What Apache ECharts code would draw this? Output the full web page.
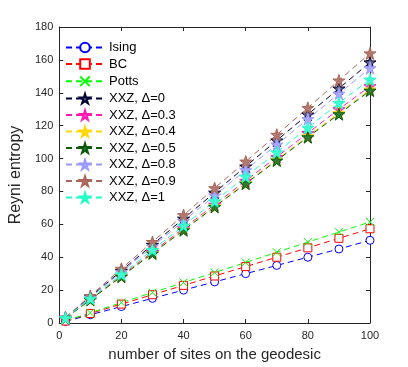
<!DOCTYPE html>
<html>
<head>
<meta charset="utf-8">
<script src="https://cdn.jsdelivr.net/npm/echarts@6.0.0/dist/echarts.min.js"></script>
<style>
  html, body { margin: 0; padding: 0; background: #fff; }
  #chart { width: 408px; height: 367px; }
</style>
</head>
<body>
<div id="chart"></div>
<script>
// number of sites on the geodesic
const sites = [2, 10, 20, 30, 40, 50, 60, 70, 80, 90, 100]

const ising = [1, 5, 10, 15, 20, 25, 30, 35, 40, 45, 50.3]
const bc = [1.2, 5.8, 11.5, 17.2, 22.9, 28.6, 34.3, 40, 45.7, 51.5, 57.3]
const potts = [1.3, 6.2, 12.4, 18.5, 24.6, 30.7, 36.8, 43, 49.2, 55.3, 61.4]
const xxz0 = [3.2, 15.9, 31.8, 47.6, 63.5, 79.3, 95.2, 111, 126.8, 142.6, 158.5]
const xxz03 = [2.9, 14.4, 28.8, 43.2, 57.6, 72, 86.5, 101, 115.5, 130, 144]
const xxz04 = [2.85, 14.2, 28.4, 42.6, 56.8, 71, 85.2, 99.4, 113.6, 127.8, 142]
const xxz05 = [2.8, 14.1, 28.2, 42.3, 56.4, 70.6, 84.7, 98.8, 113, 127, 141.3]
const xxz08 = [3.1, 15.5, 31, 46.5, 62, 77.5, 93, 108.5, 124, 139.5, 155]
const xxz09 = [3.3, 16.5, 33, 49.3, 65.6, 82, 98.2, 114.5, 130.8, 147.5, 164]
const xxz1 = [3, 14.8, 29.6, 44.4, 59.2, 74, 89, 103.8, 118.7, 133.8, 148]

const xTicks = [0, 20, 40, 60, 80, 100]
const yTicks = [0, 20, 40, 60, 80, 100, 120, 140, 160, 180]

const STAR = 'path://M50,0L61.2,34.5L97.6,34.5L68.2,55.9L79.4,90.5L50,69.1L20.6,90.5L31.8,55.9L2.4,34.5L38.8,34.5Z'
const CROSS = 'path://M0,0L10,10M10,0L0,10'
const FONT = '"Liberation Sans", Arial, sans-serif'
const AXIS_COLOR = '#262626'

function pairs(ys) {
  return sites.map((x, i) => [x, ys[i]])
}

function makeSeries(name, ys, color, symbol, size, fill) {
  return {
    name: name,
    type: 'line',
    data: pairs(ys),
    symbol: symbol,
    symbolSize: size,
    showSymbol: true,
    lineStyle: { color: color, width: 1, type: [6, 4] },
    itemStyle: { color: fill, borderColor: color, borderWidth: 1 },
    emphasis: { disabled: true },
    z: 3,
  }
}

const series = [
  makeSeries('Ising', ising, '#0000ff', 'circle', 8, '#fff'),
  makeSeries('BC', bc, '#ff0000', 'rect', 8, '#fff'),
  makeSeries('Potts', potts, '#00ff00', CROSS, 8, 'none'),
  makeSeries('XXZ, Δ=0', xxz0, '#000033', STAR, 12, '#6a6a90'),
  makeSeries('XXZ, Δ=0.3', xxz03, '#ff1ab1', STAR, 12, '#ff4cc4'),
  makeSeries('XXZ, Δ=0.4', xxz04, '#ffd700', STAR, 12, '#ffe030'),
  makeSeries('XXZ, Δ=0.5', xxz05, '#0b5b0b', STAR, 12, '#2e7d2e'),
  makeSeries('XXZ, Δ=0.8', xxz08, '#9a9aff', STAR, 12, '#a8a8ff'),
  makeSeries('XXZ, Δ=0.9', xxz09, '#a9665a', STAR, 12, '#b27a6e'),
  makeSeries('XXZ, Δ=1', xxz1, '#1effc8', STAR, 12, '#40ffd0'),
]

const chart = echarts.init(document.getElementById('chart'))

const axisBase = {
  type: 'value',
  interval: 20,
  axisLine: { show: true, onZero: false, lineStyle: { color: AXIS_COLOR, width: 1 } },
  axisTick: { show: true, inside: true, length: 4, lineStyle: { color: AXIS_COLOR } },
  splitLine: { show: false },
}

chart.setOption({
  animation: false,
  backgroundColor: '#fff',
  textStyle: { fontFamily: FONT },
  grid: { left: 53, right: 38, top: 27, bottom: 42, containLabel: false },
  legend: {
    orient: 'vertical',
    left: 60,
    top: 36,
    itemWidth: 38,
    itemHeight: 12,
    itemGap: 3.5,
    textStyle: { fontSize: 13, color: '#000', fontFamily: FONT },
    data: series.map(s => s.name),
  },
  xAxis: [
    Object.assign({}, axisBase, {
      min: 0,
      max: 100,
      position: 'bottom',
      name: 'number of sites on the geodesic',
      nameLocation: 'middle',
      nameGap: 24,
      nameTextStyle: { fontSize: 15, color: AXIS_COLOR, fontFamily: FONT },
      axisLabel: {
        fontSize: 11,
        color: AXIS_COLOR,
        margin: 7,
        formatter: v => (xTicks.indexOf(v) >= 0 ? String(v) : ''),
      },
    }),
    Object.assign({}, axisBase, {
      min: 0,
      max: 100,
      position: 'top',
      axisLabel: { show: false },
    }),
  ],
  yAxis: [
    Object.assign({}, axisBase, {
      min: 0,
      max: 180,
      position: 'left',
      name: 'Reyni entropy',
      nameLocation: 'middle',
      nameGap: 28,
      nameTextStyle: { fontSize: 16, color: AXIS_COLOR, fontFamily: FONT },
      axisLabel: {
        fontSize: 11,
        color: AXIS_COLOR,
        margin: 6,
        formatter: v => (yTicks.indexOf(v) >= 0 ? String(v) : ''),
      },
    }),
    Object.assign({}, axisBase, {
      min: 0,
      max: 180,
      position: 'right',
      axisLabel: { show: false },
    }),
  ],
  series: series,
})
</script>
</body>
</html>
